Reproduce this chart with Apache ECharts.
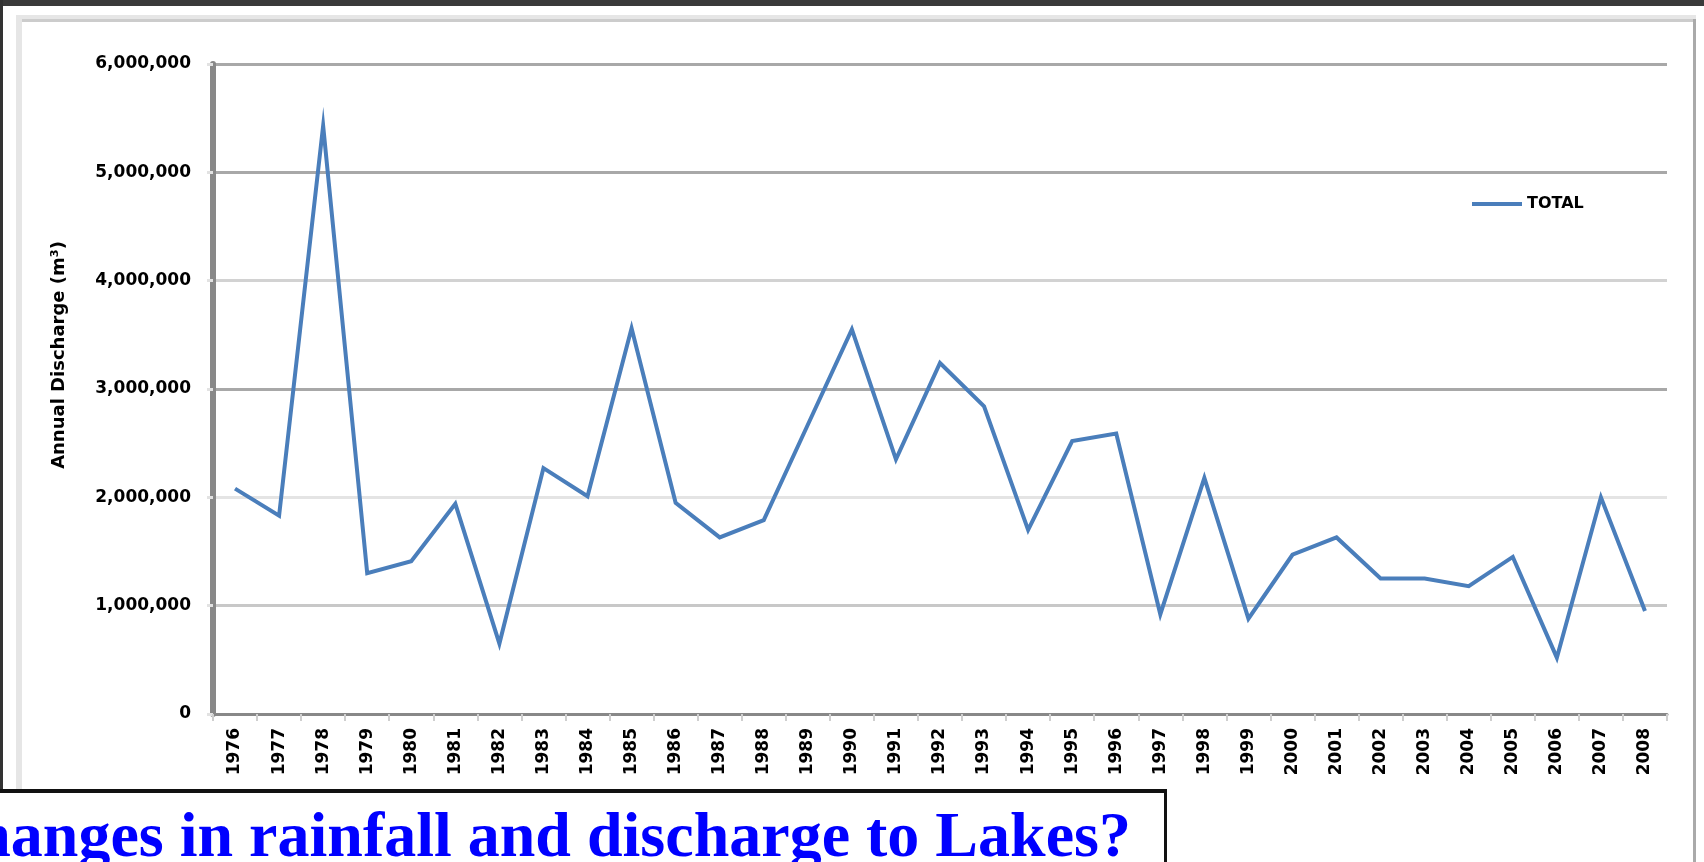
<!DOCTYPE html>
<html>
<head>
<meta charset="utf-8">
<title>Annual Discharge</title>
<script src="https://cdn.jsdelivr.net/npm/echarts@6/dist/echarts.min.js"></script>
<style>
  html, body { margin: 0; padding: 0; width: 1704px; height: 862px; overflow: hidden; background: #ffffff; }
  .band { position: absolute; }
  #chart { position: absolute; left: 0; top: 0; width: 1704px; height: 862px; z-index: 5; }
  #caption {
    position: absolute; left: -71px; top: 803px; white-space: nowrap;
    font-family: "Liberation Serif", "Times New Roman", serif; font-weight: bold;
    font-size: 64px; line-height: 64px; color: #0000ff; z-index: 6;
  }
</style>
</head>
<body>
<!-- slide frame around the chart -->
<div class="band" style="left:0;top:0;width:1704px;height:6px;background:#3a3a3a;"></div>
<div class="band" style="left:0;top:0;width:3px;height:791px;background:#333333;"></div>
<div class="band" style="left:16px;top:15px;width:1680px;height:4px;background:#e6e6e6;"></div>
<div class="band" style="left:19px;top:19px;width:1677px;height:3px;background:#cccccc;"></div>
<div class="band" style="left:16px;top:15px;width:6px;height:775px;background:#e6e6e6;"></div>
<div class="band" style="left:1693px;top:19px;width:3px;height:843px;background:#aaaaaa;"></div>
<!-- caption box below the chart -->
<div class="band" style="left:0;top:789px;width:1167px;height:4px;background:#111111;z-index:6;"></div>
<div class="band" style="left:1164px;top:789px;width:3px;height:73px;background:#111111;z-index:6;"></div>
<div id="caption">Changes in rainfall and discharge to Lakes?</div>
<div id="chart"></div>
<script>
// Years on the category axis
const years = ['1976','1977','1978','1979','1980','1981','1982','1983','1984','1985','1986',
  '1987','1988','1989','1990','1991','1992','1993','1994','1995','1996','1997',
  '1998','1999','2000','2001','2002','2003','2004','2005','2006','2007','2008'];

// Annual discharge total (m³) per year
const totalDischarge = [2080000, 1830000, 5430000, 1300000, 1410000, 1940000, 650000, 2270000,
  2010000, 3560000, 1950000, 1630000, 1790000, 2670000, 3550000, 2350000, 3240000, 2840000,
  1700000, 2520000, 2590000, 920000, 2180000, 880000, 1470000, 1630000, 1250000, 1250000,
  1180000, 1450000, 520000, 2000000, 950000];

const seriesName = 'TOTAL';
const yAxisTitle = 'Annual Discharge (m³)';

const labelFont = 'DejaVu Sans';
const chart = echarts.init(document.getElementById('chart'), null, { renderer: 'canvas' });

chart.setOption({
  backgroundColor: 'transparent',
  animation: false,
  grid: { left: 213, right: 37, top: 64, bottom: 148, containLabel: false },
  legend: {
    data: [seriesName],
    left: 1467, top: 191,
    icon: 'rect', itemWidth: 50, itemHeight: 4, itemGap: 6,
    textStyle: { fontFamily: labelFont, fontWeight: 'bold', fontSize: 16, color: '#000' }
  },
  xAxis: {
    type: 'category',
    data: years,
    boundaryGap: true,
    axisLine: { lineStyle: { color: '#888888', width: 3 } },
    axisTick: { show: true, length: 7, lineStyle: { color: '#cfcfcf', width: 2 } },
    axisLabel: {
      interval: 0, rotate: 90, margin: 14,
      fontFamily: labelFont, fontWeight: 'bold', fontSize: 17, color: '#000'
    },
    splitLine: { show: false }
  },
  yAxis: {
    type: 'value',
    min: 0, max: 6000000, interval: 1000000,
    name: yAxisTitle,
    nameLocation: 'middle',
    nameGap: 145,
    nameRotate: 90,
    nameTextStyle: { fontFamily: labelFont, fontWeight: 'bold', fontSize: 18, color: '#000', padding: [0, 0, 0, 68] },
    axisLine: { show: true, lineStyle: { color: '#888888', width: 6 } },
    axisTick: { show: true, length: 6, lineStyle: { color: '#e2e2e2', width: 3 } },
    axisLabel: {
      margin: 22,
      fontFamily: labelFont, fontWeight: 'bold', fontSize: 17, color: '#000',
      formatter: v => v.toLocaleString('en-US')
    },
    splitLine: {
      show: true,
      lineStyle: { color: ['#888888', '#c8c8c8', '#e4e4e4', '#a8a8a8', '#d2d2d2', '#a8a8a8', '#a8a8a8'], width: 3 }
    }
  },
  series: [{
    name: seriesName,
    type: 'line',
    data: totalDischarge,
    showSymbol: false,
    symbol: 'none',
    color: '#4a7ebb',
    lineStyle: { color: '#4a7ebb', width: 4, join: 'miter' }
  }]
});
</script>
</body>
</html>
